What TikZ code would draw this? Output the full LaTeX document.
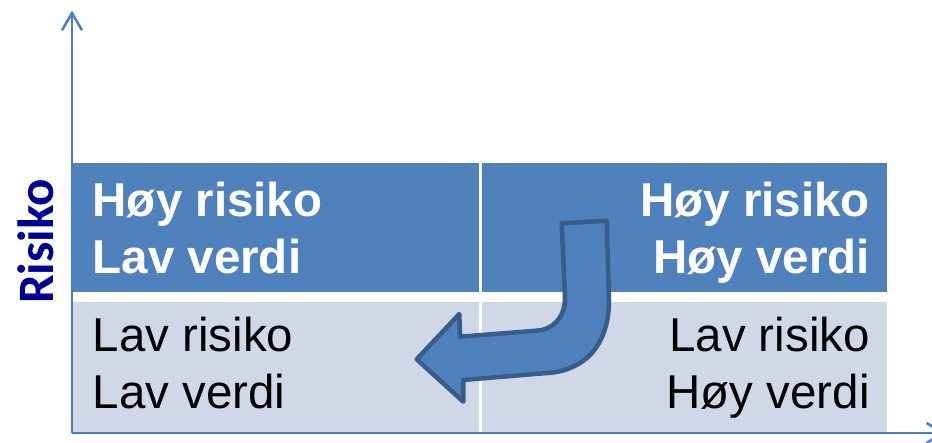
\documentclass[tikz,border=0pt]{standalone}
\usepackage{fontspec}
\setmainfont{Liberation Sans}
\newfontfamily\calib{Carlito}
\usetikzlibrary{arrows.meta}
\definecolor{topblue}{HTML}{4F81BD}
\definecolor{lightblue}{HTML}{D0D8E8}
\definecolor{axisblue}{HTML}{4A7EBB}
\definecolor{arrowborder}{HTML}{385D8A}
\definecolor{navy}{HTML}{000099}
\begin{document}
\begin{tikzpicture}[x=1pt,y=-1pt,
  cell/.style={draw=none, inner sep=0pt, outer sep=0pt, anchor=north west},
  boldtxt/.style={inner sep=0pt, text=white, font=\fontsize{47.5}{56.7}\selectfont\bfseries},
  plaintxt/.style={inner sep=0pt, text=black, font=\fontsize{47.5}{56.7}\selectfont},
  axisline/.style={draw=axisblue, line width=2.5pt, -{Straight Barb[length=17pt,width=20pt]}},
  bigarrow/.style={draw=arrowborder, fill=topblue, line width=4.5pt, line join=round}]
\useasboundingbox (0,0) rectangle (932,443);
\clip (0,0) rectangle (932,443);
% cells
\node[cell, fill=topblue, minimum width=406pt, minimum height=129.6pt] (tl) at (73,162.7) {};
\node[cell, fill=topblue, minimum width=404.7pt, minimum height=129.6pt] (tr) at (482,162.7) {};
\node[cell, fill=lightblue, minimum width=406pt, minimum height=130pt] (bl) at (73,301.7) {};
\node[cell, fill=lightblue, minimum width=404.7pt, minimum height=130pt] (br) at (482,301.7) {};
% texts
\node[boldtxt, anchor=base west] (tl1) at (92.5,216.7) {Høy risiko};
\node[boldtxt, anchor=base west] (tl2) at (92.5,273.3) {Lav verdi};
\node[boldtxt, anchor=base east] (tr1) at (870,216.7) {Høy risiko};
\node[boldtxt, anchor=base east] (tr2) at (870,273.3) {Høy verdi};
\node[plaintxt, anchor=base west] (bl1) at (92.5,351.7) {Lav risiko};
\node[plaintxt, anchor=base west] (bl2) at (92.5,408.3) {Lav verdi};
\node[plaintxt, anchor=base east] (br1) at (870,351.7) {Lav risiko};
\node[plaintxt, anchor=base east] (br2) at (870,408.3) {Høy verdi};
% axes
\coordinate (o) at (72,433);
\coordinate (ytip) at (72,10.7);
\coordinate (xtip) at (946,433);
\draw[axisline] (72,433) -- (ytip);
\draw[axisline] (o) -- (xtip);
% axis label
\node[rotate=90, anchor=base, inner sep=0pt, text=navy, font=\calib\bfseries\fontsize{51}{60}\selectfont] (risiko) at (53,241.5) {Risiko};
% curved arrow
\draw[bigarrow] (561.7,223.3) -- (606.7,220.7) -- (609,300)
  .. controls (609,345) and (585,372) .. (543.3,373.3)
  -- (463.3,380) -- (463.3,401.7) -- (416.7,359.3) -- (459.3,314)
  -- (460,336.7) -- (536.7,330.7)
  .. controls (552,330) and (565,318) .. (565,298) -- cycle;
\end{tikzpicture}
\end{document}
